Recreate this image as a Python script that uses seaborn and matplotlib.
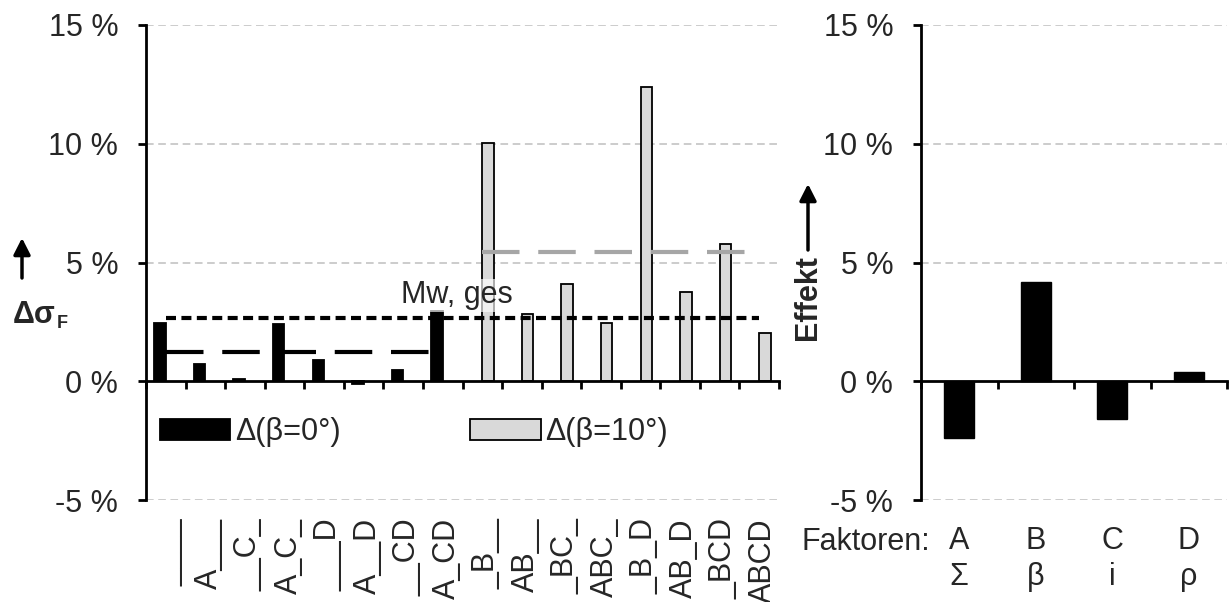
import numpy as np
import pandas as pd
import matplotlib
matplotlib.use("Agg")
import matplotlib.pyplot as plt
from matplotlib.transforms import ScaledTranslation
from matplotlib.patches import FancyArrowPatch
import seaborn as sns

# ---- data -------------------------------------------------------------
combos = ["____", "A___", "__C_", "A_C_", "___D", "A__D", "__CD", "A_CD",
          "_B__", "AB__", "_BC_", "ABC_", "_B_D", "AB_D", "_BCD", "ABCD"]
combos_b0 = combos[:8]
combos_b10 = combos[8:]
delta_b0 = [2.45, 0.72, 0.08, 2.40, 0.88, -0.12, 0.46, 2.95]       # %
delta_b10 = [10.05, 2.82, 4.10, 2.45, 12.40, 3.74, 5.80, 2.05]     # %
mw_ges = 2.65                                                        # %
series_names = ["Δ(β=0°)", "Δ(β=10°)"]

factors = ["A", "B", "C", "D"]
factor_symbols = ["Σ", "β", "i", "ρ"]
effects = [-2.40, 4.20, -1.58, 0.38]                                 # %

yticks = [-5, 0, 5, 10, 15]
ytick_labels = ["-5 %", "0 %", "5 %", "10 %", "15 %"]

# ---- style ------------------------------------------------------------
sns.set_theme(style="white")
plt.rcParams["font.family"] = ["Liberation Sans", "DejaVu Sans"]
FS = 22
plt.rcParams["font.size"] = FS

W, H = 1230, 602
fig = plt.figure(figsize=(W / 100, H / 100), dpi=100)

def px_box(x0, x1, y_top, y_bot):
    return [x0 / W, 1 - y_bot / H, (x1 - x0) / W, (y_bot - y_top) / H]

ax = fig.add_axes(px_box(146, 779, 25, 500))
ax2 = fig.add_axes(px_box(921, 1227, 25, 500))

grid_kw = dict(color="#bfbfbf", lw=1.1, ls=(0, (5, 3)))

def style_axis(a, n):
    a.set_ylim(-5, 15)
    a.set_xlim(-0.5, n - 0.5)
    for s in ["top", "right"]:
        a.spines[s].set_visible(False)
    a.spines["left"].set_linewidth(2)
    a.spines["left"].set_color("black")
    a.spines["bottom"].set_position(("data", 0))
    a.spines["bottom"].set_linewidth(2)
    a.spines["bottom"].set_color("black")
    a.spines["bottom"].set_zorder(5)
    a.set_yticks(yticks, ytick_labels)
    a.tick_params(axis="y", direction="out", length=6, width=2,
                  color="black", pad=14, labelsize=FS, left=True)
    a.set_xticks(np.arange(-0.5, n), [""] * (n + 1))
    a.tick_params(axis="x", direction="out", length=6, width=2,
                  color="black", bottom=True)
    for v in yticks:
        if v != 0:
            a.axhline(v, zorder=0, **grid_kw)
    a.set_xlabel("")
    a.set_ylabel("")

# ---- left: deviations per factor combination ---------------------------
df = pd.DataFrame({
    "Kombination": combos_b0 + combos_b10,
    "Delta": delta_b0 + delta_b10,
    "Reihe": [series_names[0]] * len(combos_b0) + [series_names[1]] * len(combos_b10),
})
sns.barplot(data=df, x="Kombination", y="Delta", hue="Reihe", order=combos,
            hue_order=series_names,
            palette={series_names[0]: "black", series_names[1]: "#d9d9d9"},
            width=0.58, dodge=True, edgecolor="black", linewidth=1.3,
            errorbar=None, ax=ax, zorder=2)
style_axis(ax, len(combos))

i0 = [combos.index(c) for c in combos_b0]
i1 = [combos.index(c) for c in combos_b10]
ax.hlines(np.mean(delta_b0), min(i0), max(i0), color="black", lw=3,
          linestyles=[(0, (9, 4.5))], zorder=3)
ax.hlines(np.mean(delta_b10), min(i1), max(i1), color="#a6a6a6", lw=3,
          linestyles=[(0, (9, 4.5))], zorder=3)
ax.hlines(mw_ges, 0, len(combos) - 1, color="black", lw=3,
          linestyles=[(0, (2.4, 1.3))], zorder=3)
ax.text(7.36, mw_ges + 0.63, "Mw, ges", ha="center", va="baseline",
        fontsize=FS, zorder=4,
        bbox=dict(facecolor="white", edgecolor="none", alpha=0.65, pad=1))

handles, labels = ax.get_legend_handles_labels()
ax.legend(handles, labels, ncol=2, loc="center left",
          bbox_to_anchor=(0.022, 0.143), frameon=False, fontsize=FS,
          handlelength=2.3, handleheight=0.72, handletextpad=0.15,
          columnspacing=4.25, borderpad=0, borderaxespad=0)

sec = ax.secondary_xaxis("bottom")
sec.set_xticks(np.arange(len(combos)), combos, rotation=90)
sec.tick_params(length=0, pad=13, labelsize=FS)
sec.spines["bottom"].set_visible(False)
shift = ScaledTranslation(4 / 100, 0, fig.dpi_scale_trans)
for t in sec.get_xticklabels():
    t.set_transform(t.get_transform() + shift)

# ---- right: main effects ----------------------------------------------
sns.barplot(x=factors, y=effects, color="black", width=0.39,
            edgecolor="black", linewidth=1, errorbar=None, ax=ax2, zorder=2)
style_axis(ax2, len(factors))

sec2 = ax2.secondary_xaxis("bottom")
sec2.set_xticks(np.arange(len(factors)),
                [f"{f}\n{s}" for f, s in zip(factors, factor_symbols)])
sec2.tick_params(length=0, pad=19, labelsize=FS)
sec2.spines["bottom"].set_visible(False)
for t in sec2.get_xticklabels():
    t.set_linespacing(1.25)

ax2.annotate("Faktoren:", xy=(0, 0), xycoords=("data", "axes fraction"),
             xytext=(-29, -27), textcoords="offset pixels",
             ha="right", va="top", fontsize=FS)

# ---- axis titles with arrows -------------------------------------------
arrow_kw = dict(arrowstyle="-|>,head_length=0.55,head_width=0.28", lw=2.5,
                color="black", shrinkA=0, shrinkB=0, mutation_scale=18)
fig.text(13 / W, 1 - 323 / H, "Δσ", fontsize=FS, weight="bold",
         ha="left", va="baseline")
fig.text(57 / W, 1 - 328 / H, "F", fontsize=13, weight="bold",
         ha="left", va="baseline")
fig.add_artist(FancyArrowPatch(
    (22 / W, 1 - 278 / H), (22 / W, 1 - 238 / H),
    transform=fig.transFigure, **arrow_kw))

fig.text(808 / W, 1 - 298 / H, "Effekt", fontsize=FS, weight="bold",
         rotation=90, ha="center", va="center")
fig.add_artist(FancyArrowPatch(
    (808 / W, 1 - 250 / H), (808 / W, 1 - 184 / H),
    transform=fig.transFigure, **arrow_kw))

fig.savefig("out.png", dpi=100)
